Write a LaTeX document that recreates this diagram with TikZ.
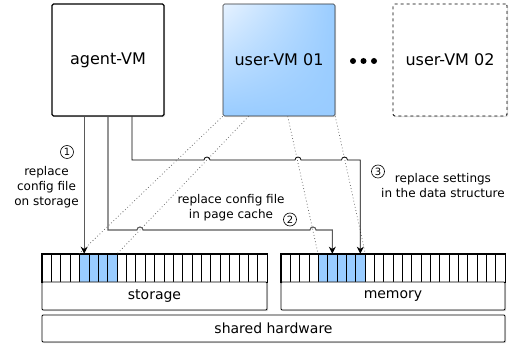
\documentclass[tikz,border=0pt]{standalone}
\usepackage{fontspec}
\setmainfont{DejaVu Sans}
\usetikzlibrary{arrows.meta,shadows,shadings,calc}
\definecolor{cellblue}{HTML}{99CCFF}
\definecolor{glossblue}{HTML}{E6F2FF}
\definecolor{wire}{HTML}{5A5A5A}
\definecolor{dotgray}{HTML}{6A6A6A}
\begin{document}
\begin{tikzpicture}[x=1pt,y=-1pt,
  shad/.style={drop shadow={opacity=0.25,shadow xshift=1.2pt,shadow yshift=-1.2pt}},
  vm/.style={shad,minimum width=112pt,minimum height=112pt,inner sep=0pt,
    rounded corners=1.5pt,font=\fontsize{16}{19}\selectfont},
  hwbox/.style={shad,draw,line width=0.8pt,fill=white,inner sep=0pt,rounded corners=1pt,
    font=\fontsize{14}{17}\selectfont},
  cell/.style={draw,line width=0.6pt,inner sep=0pt,minimum height=28pt},
  lbl/.style={align=center,inner sep=0pt,font=\fontsize{12}{15}\selectfont},
  num/.style={circle,draw,line width=0.6pt,inner sep=0pt,minimum size=13pt,
    font=\fontsize{10}{10}\selectfont},
  tip/.style={-{Stealth[length=7pt,width=7pt,color=black]}},
  wireA/.style={draw=wire,line width=1.1pt,tip},
  wireB/.style={draw=black,line width=0.8pt,tip},
  dotl/.style={draw=dotgray,line width=0.75pt,dash pattern=on 0.8pt off 2.4pt}
]
\useasboundingbox (0,0) rectangle (515,347);

% VMs
\node[vm,draw,line width=1.2pt,fill=white] (agent) at (108,60) {agent-VM};
\node[vm,draw=black!80,line width=0.6pt,upper left=glossblue,upper right=cellblue,
  lower left=cellblue,lower right=cellblue] (user1) at (279,60) {user-VM 01};
\node[vm,draw,dashed,line width=0.8pt,fill=white,minimum width=114pt] (user2) at (450,60) {user-VM 02};
\fill (353,61) circle (3pt) (363.5,61) circle (3pt) (374,61) circle (3pt);

% storage cells
\foreach \i in {0,...,3,8,9,...,23}
  \node[cell,fill=white,minimum width=9.375pt] (s\i) at ({42+(\i+0.5)*9.375},268) {};
\foreach \i in {4,...,7}
  \node[cell,fill=cellblue,minimum width=9.375pt] (s\i) at ({42+(\i+0.5)*9.375},268) {};
% memory cells
\foreach \i in {0,...,3,9,10,...,23}
  \node[cell,fill=white,minimum width=9.3333pt] (m\i) at ({281+(\i+0.5)*9.3333},268) {};
\foreach \i in {4,...,8}
  \node[cell,fill=cellblue,minimum width=9.3333pt] (m\i) at ({281+(\i+0.5)*9.3333},268) {};
\draw[line width=0.75pt] (s0.north west) rectangle (s23.south east);
\draw[line width=0.75pt] (m0.north west) rectangle (m23.south east);

% hardware boxes
\node[hwbox,minimum width=225pt,minimum height=28pt] (storage) at (154.5,296) {storage};
\node[hwbox,minimum width=224pt,minimum height=28pt] (memory) at (393,296) {memory};
\node[hwbox,minimum width=463pt,minimum height=27pt] (shared) at (273.5,328.5) {shared hardware};

% dotted mapping lines
\draw[dotl] (user1.south west) -- (s4.north west);
\draw[dotl] ([xshift=26pt]user1.south west) -- (s7.north east);
\draw[dotl] ([xshift=65pt]user1.south west) -- (m4.north west);
\draw[dotl] (user1.south east) -- (m8.north east);

% hump positions
\coordinate (h2a) at (140,230);
\coordinate (h2b) at (313,230);
\coordinate (h3a) at (207,160);
\coordinate (h3b) at (298,160);
\coordinate (h3c) at (344.5,160);

% connector 1
\draw[wireA] (agent.south -| s4) -- (s4.north);
% connector 2
\draw[wireA] (agent.south) |- ([xshift=-3pt]h2a)
  arc[start angle=180,end angle=0,radius=3pt] -- ([xshift=-3pt]h2b)
  arc[start angle=180,end angle=0,radius=3pt] -| (m5.north);
% connector 3
\draw[wireB] ([xshift=24pt]agent.south) |- ([xshift=-3pt]h3a)
  arc[start angle=180,end angle=0,radius=3pt] -- ([xshift=-3pt]h3b)
  arc[start angle=180,end angle=0,radius=3pt] -- ([xshift=-3pt]h3c)
  arc[start angle=180,end angle=0,radius=3pt] -| (m8.north);

% labels
\node[num] (n1) at (67,152) {1};
\node[lbl] (t1) at (46.5,187) {replace\\config file\\on storage};
\node[lbl] (t2) at (231,207.5) {replace config file\\in page cache};
\node[num] (n2) at (290,219.5) {2};
\node[num] (n3) at (378,171.5) {3};
\node[lbl] (t3) at (443,185.5) {replace settings\\in the data structure};
\end{tikzpicture}
\end{document}
